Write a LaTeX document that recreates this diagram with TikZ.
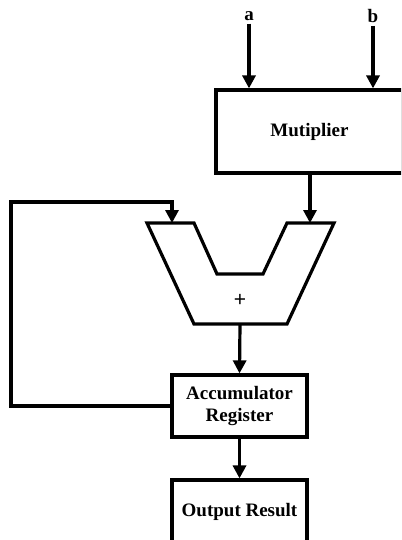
\documentclass[tikz,border=0pt]{standalone}
\usepackage{fontspec}
\setmainfont{Liberation Serif}
\newfontfamily\plusfont{Liberation Sans}
\usetikzlibrary{arrows.meta}
\begin{document}
\begin{tikzpicture}[x=1pt,y=-1pt,
  wire/.style={line width=3.2pt,line cap=butt,line join=miter},
  arr/.style={wire,-{Triangle[length=13pt,width=13pt]}},
  blk/.style={draw,line width=3.2pt,rectangle,inner sep=0pt,
    font=\fontsize{19}{22}\selectfont\bfseries,align=center},
  lbl/.style={font=\fontsize{19}{22}\selectfont\bfseries,inner sep=0pt}]
\useasboundingbox (0,0) rectangle (401,540);
\clip (0,0) rectangle (401,540);
% nodes
\node[blk,minimum width=187pt,minimum height=83pt] (mult) at (309.5,131.5) {Mutiplier};
\node[blk,minimum width=135pt,minimum height=62pt] (acc) at (239.5,406) {Accumulator\\Register};
\node[blk,minimum width=135pt,minimum height=64pt] (out) at (239.5,512) {Output Result};
\node[lbl] (la) at (249,16) {a};
\node[lbl] (lb) at (373,16) {b};
% adder
\coordinate (addL) at (172,223);
\coordinate (addR) at (310,223);
\coordinate (addB) at (240,324);
\draw[wire] (147,223) -- (194,223) -- (217,274) -- (263,274) -- (287,223) -- (334,223)
  -- (287,324) -- (194,324) -- cycle;
\node[font=\plusfont\fontsize{21}{24}\selectfont,inner sep=0pt] (plus) at (240,300) {+};
% connectors
\draw[arr] (la.south) ++(0,3) -- (la.south |- mult.north);
\draw[arr] (lb.south) ++(0,3) -- (lb.south |- mult.north);
\draw[arr] (mult.south -| addR) -- (addR);
\draw[arr] (acc.west) -- (11,406) -- (11,202) -- (172,202) -- (addL);
\draw[arr] (addB) -- (acc.north);
\draw[arr] (acc.south) -- (out.north);
\end{tikzpicture}
\end{document}
